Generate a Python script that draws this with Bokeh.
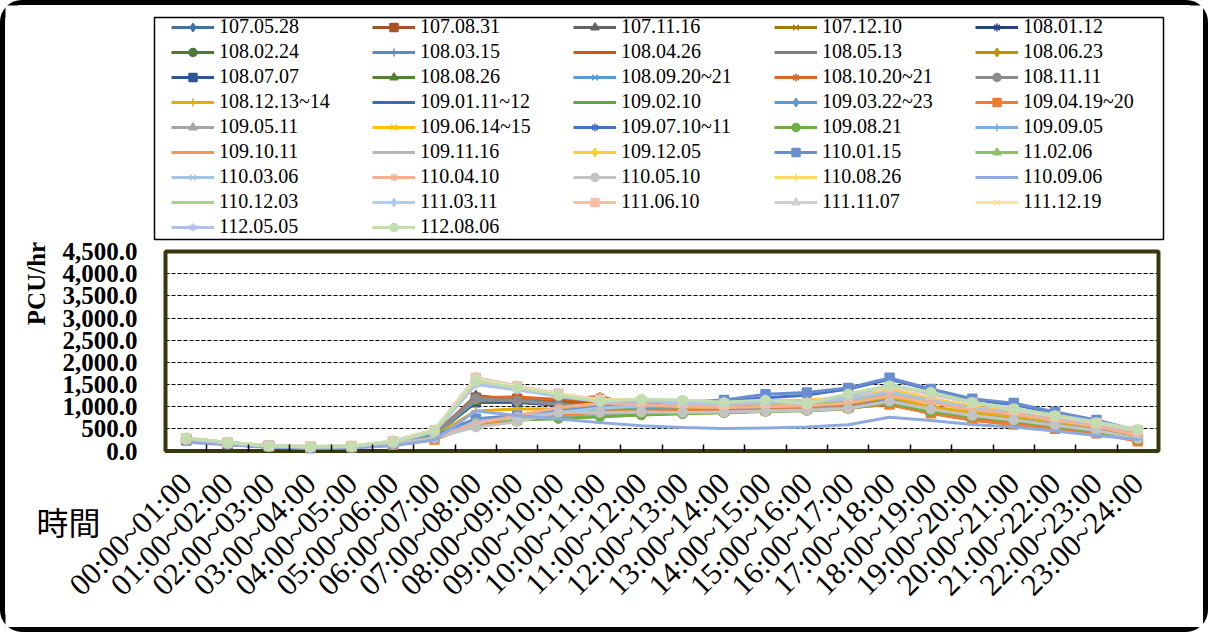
import math
from bokeh.plotting import figure
from bokeh.models import (ColumnDataSource, Range1d, FixedTicker, NumeralTickFormatter,
                          Legend, LegendItem, Label, BoxAnnotation, Grid)
from bokeh.embed import file_html
from bokeh.resources import INLINE

hours = ["00:00~01:00", "01:00~02:00", "02:00~03:00", "03:00~04:00", "04:00~05:00",
         "05:00~06:00", "06:00~07:00", "07:00~08:00", "08:00~09:00", "09:00~10:00",
         "10:00~11:00", "11:00~12:00", "12:00~13:00", "13:00~14:00", "14:00~15:00",
         "15:00~16:00", "16:00~17:00", "17:00~18:00", "18:00~19:00", "19:00~20:00",
         "20:00~21:00", "21:00~22:00", "22:00~23:00", "23:00~24:00"]

y_ticks = [0, 500, 1000, 1500, 2000, 2500, 3000, 3500, 4000, 4500]

names = ["107.05.28", "107.08.31", "107.11.16", "107.12.10", "108.01.12",
         "108.02.24", "108.03.15", "108.04.26", "108.05.13", "108.06.23",
         "108.07.07", "108.08.26", "108.09.20~21", "108.10.20~21", "108.11.11",
         "108.12.13~14", "109.01.11~12", "109.02.10", "109.03.22~23", "109.04.19~20",
         "109.05.11", "109.06.14~15", "109.07.10~11", "109.08.21", "109.09.05",
         "109.10.11", "109.11.16", "109.12.05", "110.01.15", "11.02.06",
         "110.03.06", "110.04.10", "110.05.10", "110.08.26", "110.09.06",
         "110.12.03", "111.03.11", "111.06.10", "111.11.07", "111.12.19",
         "112.05.05", "112.08.06"]

s_107_05_28 = [250, 160, 100, 80, 90, 180, 380, 1150, 1120, 1050, 980, 950, 920, 930, 960, 980, 1000, 1150, 950, 820, 720, 600, 480, 300]
s_107_08_31 = [260, 170, 110, 90, 100, 190, 400, 1200, 1180, 1080, 1150, 1000, 950, 960, 980, 990, 1020, 1120, 900, 780, 680, 580, 470, 290]
s_107_11_16 = [240, 150, 90, 70, 80, 170, 360, 1250, 1150, 1020, 900, 870, 880, 900, 920, 950, 980, 1100, 920, 800, 700, 580, 460, 280]
s_107_12_10 = [270, 170, 100, 80, 90, 190, 390, 1100, 1100, 1050, 1000, 1050, 1000, 1000, 1020, 1030, 1060, 1200, 980, 850, 760, 640, 520, 330]
s_108_01_12 = [230, 150, 90, 70, 80, 170, 370, 1150, 1130, 1060, 990, 960, 940, 950, 970, 990, 1010, 1150, 930, 810, 710, 590, 470, 290]
s_108_02_24 = [250, 160, 100, 80, 90, 180, 380, 1120, 1150, 1080, 1000, 980, 960, 970, 990, 1000, 1030, 1180, 960, 830, 730, 610, 490, 310]
s_108_03_15 = [240, 160, 95, 75, 85, 175, 370, 1180, 1160, 1070, 990, 950, 930, 950, 970, 990, 1020, 1160, 950, 820, 720, 600, 480, 300]
s_108_04_26 = [260, 170, 100, 80, 90, 185, 390, 1100, 1200, 1150, 1050, 950, 900, 900, 920, 950, 980, 1050, 850, 700, 600, 520, 430, 250]
s_108_05_13 = [250, 160, 100, 80, 90, 180, 380, 1230, 1170, 1060, 980, 940, 920, 930, 950, 970, 1000, 1130, 940, 810, 710, 590, 470, 290]
s_108_06_23 = [260, 170, 100, 85, 95, 185, 390, 1130, 1120, 1060, 1010, 1060, 1010, 1010, 1030, 1040, 1070, 1210, 990, 860, 770, 650, 530, 340]
s_108_07_07 = [240, 150, 90, 70, 80, 170, 360, 1100, 1100, 1030, 960, 930, 910, 920, 940, 960, 990, 1120, 920, 800, 700, 580, 460, 280]
s_108_08_26 = [250, 160, 95, 75, 85, 175, 375, 1120, 1140, 1070, 990, 960, 940, 950, 970, 990, 1020, 1140, 940, 810, 710, 590, 470, 290]
s_108_09_20 = [240, 150, 90, 70, 80, 170, 360, 1150, 1140, 1060, 980, 950, 930, 940, 960, 980, 1010, 1150, 950, 820, 720, 600, 480, 300]
s_108_10_20 = [260, 170, 100, 80, 90, 190, 400, 1200, 1220, 1160, 1230, 1000, 960, 960, 980, 1000, 1030, 1100, 870, 740, 640, 540, 440, 260]
s_108_11_11 = [250, 160, 100, 80, 90, 180, 380, 1180, 1130, 1050, 970, 940, 920, 930, 950, 970, 1000, 1130, 930, 800, 700, 580, 460, 280]
s_108_12_13 = [270, 180, 110, 85, 95, 180, 350, 900, 950, 950, 950, 1000, 980, 990, 1010, 1030, 1070, 1220, 1000, 870, 780, 660, 540, 350]
s_109_01_11 = [280, 190, 120, 90, 90, 150, 280, 650, 750, 850, 950, 1000, 1020, 1040, 1100, 1120, 1150, 1300, 1120, 950, 850, 700, 560, 380]
s_109_02_10 = [240, 160, 100, 80, 90, 180, 370, 700, 720, 750, 780, 820, 850, 870, 900, 920, 960, 1100, 900, 780, 680, 570, 450, 270]
s_109_03_22 = [270, 180, 110, 85, 90, 150, 270, 620, 720, 830, 930, 980, 1000, 1020, 1080, 1100, 1130, 1280, 1100, 930, 830, 690, 550, 370]
s_109_04_19 = [260, 170, 110, 80, 85, 140, 260, 600, 700, 800, 880, 900, 900, 900, 920, 950, 980, 1050, 850, 700, 600, 500, 400, 220]
s_109_05_11 = [250, 160, 100, 80, 90, 180, 380, 720, 740, 760, 800, 840, 860, 880, 910, 930, 970, 1110, 910, 790, 690, 580, 460, 280]
s_109_06_14 = [280, 190, 120, 90, 90, 150, 280, 640, 740, 860, 960, 1050, 1060, 1070, 1120, 1130, 1160, 1350, 1180, 1000, 880, 730, 580, 390]
s_109_07_10 = [270, 180, 110, 85, 90, 160, 300, 700, 780, 880, 980, 1080, 1100, 1120, 1200, 1260, 1400, 1620, 1380, 1150, 1050, 850, 680, 450]
s_109_08_21 = [250, 170, 100, 80, 90, 180, 380, 680, 700, 730, 770, 810, 840, 860, 890, 910, 950, 1090, 890, 770, 670, 560, 440, 260]
s_109_09_05 = [280, 190, 120, 90, 90, 150, 290, 660, 760, 870, 970, 1030, 1050, 1060, 1100, 1120, 1150, 1320, 1130, 960, 860, 710, 570, 380]
s_109_10_11 = [270, 180, 110, 85, 90, 150, 280, 650, 760, 880, 1000, 1060, 1070, 1080, 1120, 1140, 1170, 1350, 1150, 980, 870, 720, 580, 390]
s_109_11_16 = [290, 190, 120, 100, 110, 220, 470, 1550, 1400, 1250, 1120, 1150, 1100, 1080, 1120, 1100, 1250, 1480, 1300, 1100, 950, 800, 650, 480]
s_109_12_05 = [280, 190, 120, 90, 90, 150, 290, 680, 780, 900, 1020, 1150, 1120, 1100, 1130, 1150, 1200, 1380, 1180, 1000, 890, 740, 600, 400]
s_110_01_15 = [260, 170, 110, 80, 90, 170, 330, 730, 800, 900, 1000, 1100, 1100, 1150, 1280, 1320, 1420, 1650, 1400, 1180, 1080, 880, 700, 460]
s_110_02_06 = [270, 180, 110, 85, 90, 150, 280, 640, 740, 850, 950, 1010, 1020, 1030, 1080, 1100, 1130, 1290, 1100, 940, 840, 700, 560, 370]
s_110_03_06 = [280, 180, 110, 85, 90, 150, 280, 660, 760, 870, 970, 1020, 1030, 1050, 1100, 1120, 1160, 1330, 1140, 970, 860, 710, 570, 380]
s_110_04_10 = [270, 180, 110, 85, 90, 150, 270, 620, 800, 980, 1080, 1050, 1000, 980, 1000, 1020, 1080, 1250, 1080, 930, 830, 690, 550, 360]
s_110_05_10 = [250, 160, 100, 80, 90, 170, 300, 540, 660, 870, 870, 880, 870, 880, 900, 920, 960, 1120, 940, 800, 700, 580, 460, 280]
s_110_08_26 = [280, 180, 110, 90, 100, 210, 450, 1580, 1420, 1270, 1150, 1160, 1100, 1080, 1110, 1100, 1230, 1450, 1280, 1090, 940, 790, 640, 470]
s_110_09_06 = [200, 140, 80, 60, 70, 120, 250, 900, 800, 720, 640, 570, 530, 510, 520, 540, 590, 760, 690, 600, 540, 450, 350, 260]
s_110_12_03 = [290, 190, 120, 95, 105, 215, 460, 1560, 1410, 1260, 1140, 1150, 1100, 1080, 1110, 1080, 1240, 1470, 1290, 1100, 950, 800, 650, 480]
s_111_03_11 = [280, 180, 110, 90, 100, 205, 440, 1540, 1390, 1240, 1120, 1140, 1090, 1070, 1100, 1080, 1230, 1460, 1280, 1090, 940, 790, 640, 470]
s_111_06_10 = [290, 190, 120, 100, 110, 220, 470, 1650, 1460, 1290, 1150, 1130, 1080, 1060, 1090, 1070, 1220, 1440, 1270, 1080, 930, 780, 630, 460]
s_111_11_07 = [300, 200, 120, 100, 110, 230, 480, 1660, 1470, 1300, 1160, 1150, 1090, 1070, 1100, 1080, 1230, 1460, 1280, 1090, 940, 790, 640, 470]
s_111_12_19 = [290, 190, 120, 100, 110, 220, 470, 1620, 1450, 1280, 1150, 1160, 1100, 1080, 1110, 1090, 1240, 1470, 1290, 1100, 950, 800, 650, 480]
s_112_05_05 = [280, 180, 110, 90, 100, 200, 430, 1500, 1380, 1230, 1110, 1140, 1090, 1070, 1100, 1080, 1220, 1500, 1300, 1100, 960, 810, 660, 480]
s_112_08_06 = [290, 190, 110, 90, 100, 210, 450, 1580, 1430, 1260, 1120, 1170, 1150, 1100, 1150, 1070, 1290, 1470, 1330, 1100, 960, 800, 640, 490]

series_values = [s_107_05_28, s_107_08_31, s_107_11_16, s_107_12_10, s_108_01_12,
                 s_108_02_24, s_108_03_15, s_108_04_26, s_108_05_13, s_108_06_23,
                 s_108_07_07, s_108_08_26, s_108_09_20, s_108_10_20, s_108_11_11,
                 s_108_12_13, s_109_01_11, s_109_02_10, s_109_03_22, s_109_04_19,
                 s_109_05_11, s_109_06_14, s_109_07_10, s_109_08_21, s_109_09_05,
                 s_109_10_11, s_109_11_16, s_109_12_05, s_110_01_15, s_110_02_06,
                 s_110_03_06, s_110_04_10, s_110_05_10, s_110_08_26, s_110_09_06,
                 s_110_12_03, s_111_03_11, s_111_06_10, s_111_11_07, s_111_12_19,
                 s_112_05_05, s_112_08_06]

colors = ["#41719C", "#A5522A", "#636363", "#A07C0A", "#284478", "#4E7A34",
          "#5A8CC0", "#C55A11", "#7F7F7F", "#BF9000", "#2F5597", "#548235",
          "#5B9BD5", "#D9692A", "#8C8C8C", "#E6AD00", "#3E68B8", "#67A33E",
          "#5B9BD5", "#ED7D31", "#A5A5A5", "#FFC000", "#4472C4", "#70AD47",
          "#7CAFDD", "#F1975A", "#B7B7B7", "#FFCD33", "#698ED0", "#8CC168",
          "#A3C5E8", "#F5B08D", "#C3C3C3", "#FFD966", "#8FAADC", "#A9D18E",
          "#B0CDEB", "#F7C0A3", "#D0D0D0", "#FFE29A", "#AFC1E8", "#C2DEB0"]

marker_cycle = ["diamond", "square", "triangle", "x", "asterisk", "circle", "cross", "dash", "dash"]

FONT = "Liberation Serif"

# ---- page layout (pixels) ----
CX0, CY0 = 5, 5            # canvas origin on the page
W, H = 1208, 632           # canvas size; the frame fills the whole canvas
BOX_L, BOX_R, BOX_T, BOX_B = 165, 1158, 251, 450.5   # plot-area box on the page
n = len(hours)
YMAX = y_ticks[-1]
ppx = (BOX_R - BOX_L) / n
ppy = (BOX_B - BOX_T) / YMAX
x_start = -0.5 - (BOX_L - CX0) / ppx
x_end = n - 0.5 + (CX0 + W - BOX_R) / ppx
y_end = YMAX + (BOX_T - CY0) / ppy
y_start = -(CY0 + H - BOX_B) / ppy
FB = CY0 + H               # frame bottom on the page

def sx(px):   # page x -> frame screen x
    return px - CX0

def sy(py):   # page y -> frame screen y (from frame bottom)
    return FB - py

p = figure(width=W, height=H, output_backend="svg", toolbar_location=None,
           x_range=Range1d(x_start, x_end), y_range=Range1d(y_start, y_end),
           min_border=0, min_border_left=0, min_border_right=0,
           min_border_top=0, min_border_bottom=0,
           background_fill_color="white", border_fill_color="white")
p.styles = {"border": "5px solid black", "border-radius": "22px"}
p.outline_line_color = None

# grid
p.xgrid.visible = False
p.ygrid.ticker = FixedTicker(ticks=y_ticks[1:-1])
p.ygrid.grid_line_color = "black"
p.ygrid.grid_line_dash = "4 2"
p.ygrid.grid_line_width = 1
if "cross_bounds" in Grid.properties():
    p.ygrid.cross_bounds = (-0.5, n - 0.5)
else:
    p.ygrid.visible = False
    gy = y_ticks[1:-1]
    p.segment(x0=[-0.5] * len(gy), x1=[n - 0.5] * len(gy), y0=gy, y1=gy,
              line_color="black", line_dash="4 2", line_width=1)

# plot-area border
p.add_layout(BoxAnnotation(left=-0.5, right=n - 0.5, bottom=0, top=YMAX,
                           fill_alpha=0, line_color="#38380e", line_alpha=1,
                           line_width=4, level="underlay"))

xs = list(range(n))
items = []
for i, (name, vals) in enumerate(zip(names, series_values)):
    src = ColumnDataSource(dict(x=xs, y=vals))
    c = colors[i]
    m = marker_cycle[i % len(marker_cycle)]
    lr = p.line("x", "y", source=src, line_color=c, line_width=3)
    sr = p.scatter("x", "y", source=src, marker=m, size=9, fill_color=c, line_color=c, line_width=1.5)
    items.append(LegendItem(label=name, renderers=[lr, sr]))

# x axis, pinned to y = 0
xa = p.xaxis[0]
xa.fixed_location = 0
xa.ticker = FixedTicker(ticks=xs, minor_ticks=[i + 0.5 for i in range(n - 1)])
xa.major_label_overrides = {i: h for i, h in enumerate(hours)}
xa.major_label_orientation = math.pi / 4
xa.major_label_text_font = FONT
xa.major_label_text_font_size = "31px"
xa.major_label_text_color = "black"
xa.major_tick_in = 0
xa.major_tick_out = 0
xa.minor_tick_in = 7
xa.minor_tick_out = 0
xa.minor_tick_line_color = "black"
xa.minor_tick_line_width = 1.5
xa.axis_line_color = None
xa.major_label_standoff = 27

# y axis, pinned to the left edge of the plot area
ya = p.yaxis[0]
ya.fixed_location = -0.5
ya.ticker = FixedTicker(ticks=y_ticks)
ya.formatter = NumeralTickFormatter(format="0,0.0")
ya.major_label_text_font = FONT
ya.major_label_text_font_style = "bold"
ya.major_label_text_font_size = "25px"
ya.major_label_text_color = "black"
ya.major_tick_in = 0
ya.major_tick_out = 0
ya.minor_tick_in = 0
ya.minor_tick_out = 0
ya.axis_line_color = None
ya.major_label_standoff = 28

# legend frame
p.add_layout(BoxAnnotation(left=sx(154), right=sx(1163), top=sy(17), bottom=sy(239),
                           left_units="screen", right_units="screen",
                           top_units="screen", bottom_units="screen",
                           fill_color="white", fill_alpha=1, line_color="black",
                           line_alpha=1, line_width=1.5))

legend = Legend(items=items, orientation="horizontal", ncols=5,
                location=(sx(171), sy(238)), label_text_font=FONT, label_text_font_size="20px",
                label_text_color="black", glyph_width=43, glyph_height=20,
                label_height=20, label_width=151, label_standoff=5, spacing=2,
                padding=0, margin=0, border_line_alpha=0, background_fill_alpha=0)
p.add_layout(legend, "center")

p.add_layout(Label(x=sx(68), y=sy(520), x_units="screen", y_units="screen", text="時間",
                   text_font="Noto Sans CJK TC", text_font_size="32px",
                   text_align="center", text_baseline="middle", text_color="black"))
p.add_layout(Label(x=sx(36), y=sy(283), x_units="screen", y_units="screen", text="PCU/hr",
                   angle=math.pi / 2, text_font=FONT, text_font_style="bold",
                   text_font_size="25px", text_align="center", text_baseline="middle",
                   text_color="black"))

open("out.html", "w").write(file_html(p, INLINE))
